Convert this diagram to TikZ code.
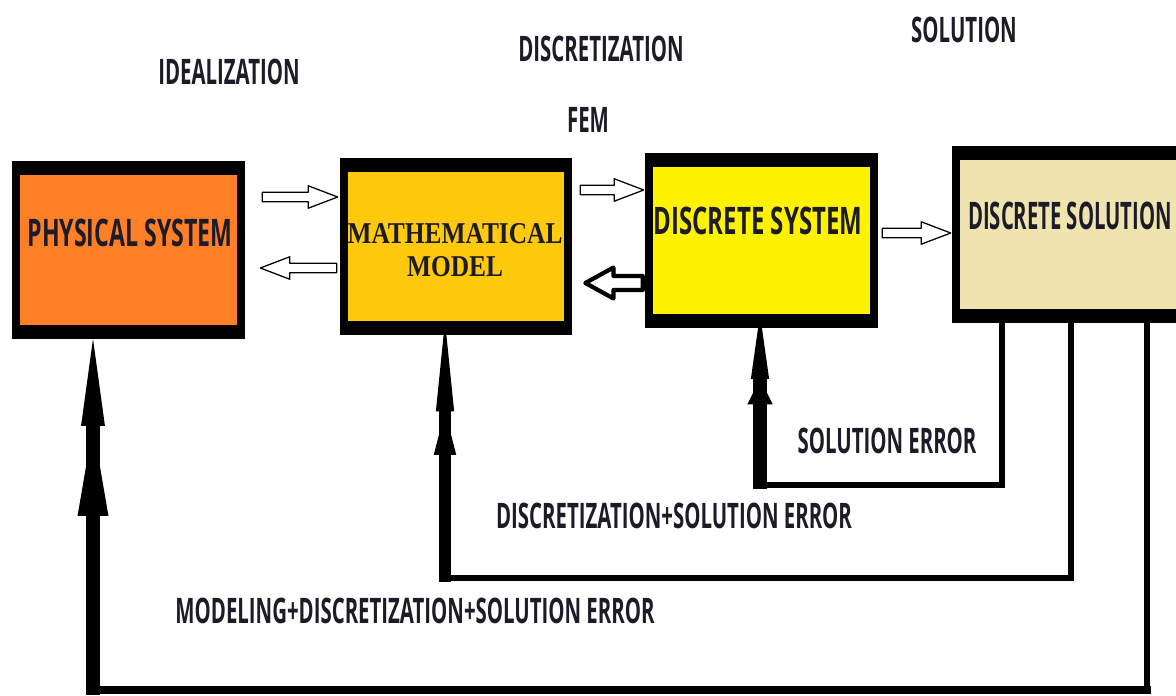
\documentclass[tikz,border=0pt]{standalone}
\usepackage{fontspec}
\usetikzlibrary{arrows.meta,calc}

% condensed bold sans for the captions, condensed bold serif for the model box
\newfontfamily\capsfont[FakeStretch=0.58]{Open Sans}
\newfontfamily\modelfont[FakeStretch=0.84]{Liberation Serif}

\definecolor{physorange}{HTML}{FF7F27}
\definecolor{mathgold}{HTML}{FFC90E}
\definecolor{discyellow}{HTML}{FFF200}
\definecolor{soltan}{HTML}{EFE4B0}
\definecolor{ink}{HTML}{1C1C28}

\tikzset{
  % framed block: black frame, thin at the sides and thick at top and bottom
  block/.style={fill=black, inner sep=0pt, minimum width=5.825cm, minimum height=4.4cm,
    path picture={\fill[#1]
      ([shift={(8,-14)}]path picture bounding box.south west) rectangle
      ([shift={(-8,14)}]path picture bounding box.north east);}},
  boxtext/.style={inner sep=0pt, text=ink, font=\capsfont\bfseries\fontsize{27}{29}\selectfont},
  lbl/.style={inner sep=0pt, text=ink, font=\capsfont\bfseries\fontsize{25}{27}\selectfont},
  modeltext/.style={inner sep=0pt, text=ink, align=center,
    font=\modelfont\bfseries\fontsize{21.5}{23.5}\selectfont},
  % hollow block arrow between two points on the same horizontal line
  shafthalf/.store in=\shafthalf, headhalf/.store in=\headhalf, headlen/.store in=\headlen,
  shafthalf=3.4pt, headhalf=8pt, headlen=21pt,
  hollow/.style={draw=black, fill=white, line width=0.9pt, line join=round,
    to path={let \p1=(\tikztostart), \p2=(\tikztotarget), \n1={sign(\x2-\x1)} in
      (\x1,\y1+\shafthalf) -- (\x2-\n1*\headlen,\y1+\shafthalf)
      -- (\x2-\n1*\headlen,\y1+\headhalf) -- (\x2,\y1)
      -- (\x2-\n1*\headlen,\y1-\headhalf) -- (\x2-\n1*\headlen,\y1-\shafthalf)
      -- (\x1,\y1-\shafthalf) -- cycle}},
  wire/.style={draw=black, line width=3.6pt, line cap=rect},
  % thick feedback shaft ending in a two-stage (notched) arrowhead
  feed/.style n args={5}{draw=black, line width=#1,
    -{Triangle[length=#4, width=#5, line width=0pt]
      Triangle[length=#2, width=#3, line width=0pt]}},
}

\begin{document}
\begin{tikzpicture}[x=0.025cm, y=-0.025cm]
  \useasboundingbox (0,0) rectangle (1176,696);
  \clip (0,0) rectangle (1176,696);
  \fill[white] (0,0) rectangle (1176,696);

  % blocks
  \node[block=physorange, minimum width=5.825cm, minimum height=4.425cm] (phys) at (128.5,250) {};
  \node[block=mathgold,   minimum width=5.8cm,   minimum height=4.425cm] (math) at (456,246.5) {};
  \node[block=discyellow, minimum width=5.825cm, minimum height=4.375cm] (dsys) at (761.5,240.5) {};
  \node[block=soltan,     minimum width=6cm,     minimum height=4.425cm] (dsol) at (1072,234.5) {};

  % block captions
  \node[boxtext] (physT) at (130,233) {\scalebox{1.05}[1]{PHYSICAL SYSTEM}};
  \node[modeltext] (mathT) at (455,250) {MATHEMATICAL\\MODEL};
  \node[boxtext] (dsysT) at (758,221) {\scalebox{1.09}[1]{DISCRETE SYSTEM}};
  \node[boxtext] (dsolT) at (1070,216) {\scalebox{0.92}[1]{DISCRETE SOLUTION}};

  % step labels
  \node[lbl] (ideal) at (229,72) {IDEALIZATION};
  \node[lbl] (discz) at (601,49) {DISCRETIZATION};
  \node[lbl] (fem)   at (588,120) {FEM};
  \node[lbl] (soln)  at (964,30) {SOLUTION};

  % forward and backward hollow arrows
  \draw[hollow] ($(phys.east)+(17,-53)$) to ($(math.west)+(-2,-49.5)$);
  \draw[hollow] ($(math.west)+(-3,21.5)$) to ($(phys.east)+(15,18)$);
  \draw[hollow] ($(math.east)+(8,-56.5)$) to ($(dsys.west)+(-1,-50.5)$);
  \draw[hollow, line width=3pt, shafthalf=5pt, headhalf=11pt, headlen=20pt]
    ($(dsys.west)+(-2,42.5)$) to ($(math.east)+(13,36.5)$);
  \draw[hollow] ($(dsys.east)+(4,-7.5)$) to ($(dsol.west)+(-1,-1.5)$);

  % error feedback loops
  \coordinate (r1) at (1002,485);
  \coordinate (l1) at (760,485);
  \coordinate (r2) at (1071,578);
  \coordinate (l2) at (445,578);
  \coordinate (r3) at (1147,690);
  \coordinate (l3) at (93,690);

  \draw[wire] (dsol.south -| r1) -- (r1) -- (l1);
  \draw[feed={10pt}{46pt}{13pt}{18pt}{18pt}]
    ($(l1)+(0,4)$) -- ($(dsys.south -| l1)+(0,-14)$);

  \draw[wire] (dsol.south -| r2) -- (r2) -- (l2);
  \draw[feed={8.5pt}{64pt}{13pt}{31pt}{16pt}]
    ($(l2)+(0,4)$) -- ($(math.south -| l2)+(0,-14)$);

  \draw[wire] (dsol.south -| r3) -- (r3);
  \draw[wire, line width=5pt] (r3) -- (l3);
  \draw[feed={10pt}{62pt}{17pt}{64pt}{22pt}]
    ($(l3)+(0,5)$) -- (phys.south -| l3);

  % error labels
  \node[lbl] (solerr) at (887,441) {SOLUTION ERROR};
  \node[lbl] (dserr)  at (674,516) {DISCRETIZATION+SOLUTION ERROR};
  \node[lbl] (mdserr) at (415,611) {MODELING+DISCRETIZATION+SOLUTION ERROR};
\end{tikzpicture}
\end{document}
